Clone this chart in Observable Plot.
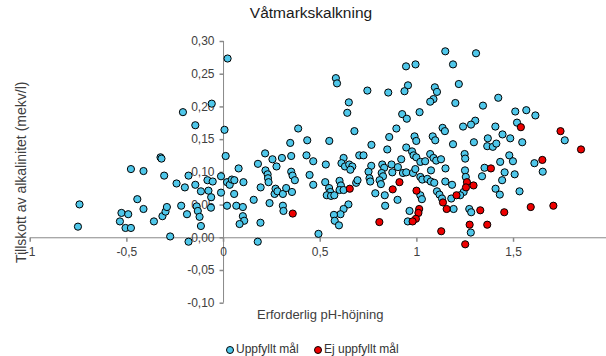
<!DOCTYPE html>
<html>
<head>
<meta charset="utf-8">
<script src="https://cdn.jsdelivr.net/npm/d3@7"></script>
<script src="https://cdn.jsdelivr.net/npm/@observablehq/plot@0.6"></script>
<style>
  body { margin: 0; background: #fff; font-family: "Liberation Sans", Arial, sans-serif; }
  #wrap { position: relative; width: 606px; height: 356px; overflow: hidden; background: #fff; }
  #title { position: absolute; left: 211px; width: 200px; top: 4px; text-align: center;
           font-size: 15.5px; line-height: 18px; font-weight: normal; color: #1a1a1a; }
  #chart { position: absolute; left: 0; top: 30px; }
  .item { position: absolute; top: 342px; display: flex; align-items: center;
          font-size: 12px; line-height: 15px; color: #333; white-space: nowrap; }
  .mk { width: 8px; height: 8px; box-sizing: border-box; border: 1px solid #000;
        border-radius: 50%; margin-right: 2px; }
</style>
</head>
<body>
<div id="wrap">
  <div id="title">Våtmarkskalkning</div>
  <div id="chart"></div>
  <div class="item" id="leg1"></div>
  <div class="item" id="leg2"></div>
</div>
<script>
// Required pH rise (x) and added alkalinity in mekv/l (y) per wetland liming site
const uppfyllt = [
  [-0.753,0.017],[-0.745,0.051],[-0.536,0.025],[-0.528,0.038],[-0.507,0.015],[-0.493,0.036],
  [-0.479,0.015],[-0.479,0.105],[-0.446,0.059],[-0.414,0.102],[-0.414,0.044],[-0.360,0.025],
  [-0.326,0.123],[-0.321,0.121],[-0.316,0.033],[-0.300,0.040],[-0.293,0.047],[-0.307,0.095],
  [-0.276,0.002],[-0.243,0.083],[-0.219,0.049],[-0.210,0.192],[-0.200,0.077],[-0.189,0.036],
  [-0.181,0.095],[-0.181,-0.006],[-0.146,0.172],[-0.146,0.081],[-0.139,0.048],[-0.133,0.041],
  [-0.124,0.032],[-0.117,0.018],[-0.117,0.071],[-0.083,0.088],[-0.078,0.072],[-0.064,0.062],
  [-0.065,0.046],[-0.061,0.205],[-0.056,0.086],[-0.013,0.094],[-0.013,0.069],
  [0.021,0.274],[0.005,0.165],[0.011,0.125],[0.018,0.085],[0.032,0.081],[0.043,0.089],
  [0.056,0.088],[0.018,0.049],[0.055,0.067],[0.066,0.049],[0.078,0.106],[0.100,0.047],
  [0.100,0.033],[0.107,0.026],[0.083,0.021],[0.103,0.085],[0.156,0.058],[0.178,0.113],
  [0.177,-0.006],[0.191,0.023],[0.192,0.077],[0.215,0.129],[0.217,0.103],[0.228,0.097],
  [0.230,0.091],[0.233,0.085],[0.238,0.053],[0.253,0.120],[0.264,0.067],[0.269,0.075],
  [0.279,0.071],[0.274,0.109],[0.302,0.122],[0.307,0.067],[0.307,0.049],[0.310,0.041],
  [0.324,0.076],[0.345,0.145],[0.350,0.125],[0.350,0.101],[0.357,0.095],[0.369,0.088],
  [0.354,0.070],[0.386,0.167],
  [0.581,0.244],[0.587,0.236],[0.640,0.191],[0.648,0.207],[0.744,0.225],[0.852,0.222],
  [0.677,0.163],[0.433,0.149],[0.547,0.148],[0.765,0.142],[0.857,0.154],[0.894,0.167],
  [0.847,0.135],[0.429,0.126],[0.464,0.117],[0.529,0.112],[0.621,0.122],[0.610,0.114],
  [0.628,0.109],[0.650,0.112],[0.666,0.109],[0.656,0.104],[0.702,0.126],[0.724,0.126],
  [0.764,0.110],[0.821,0.112],[0.831,0.107],[0.869,0.112],[0.818,0.099],[0.825,0.094],
  [0.807,0.088],[0.814,0.082],[0.873,0.100],[0.902,0.108],[0.919,0.120],[0.750,0.101],
  [0.755,0.091],[0.759,0.086],[0.445,0.096],[0.464,0.081],[0.526,0.085],[0.600,0.087],
  [0.607,0.080],[0.600,0.073],[0.621,0.073],[0.686,0.084],[0.693,0.088],[0.546,0.076],
  [0.552,0.070],[0.534,0.065],[0.556,0.064],[0.573,0.065],[0.785,0.068],[0.834,0.065],
  [0.900,0.058],[0.646,0.051],[0.621,0.044],[0.605,0.036],[0.571,0.035],[0.575,0.026],
  [0.597,0.019],[0.491,0.006],[0.836,0.049],[0.953,0.025],[0.962,0.041],
  [0.944,0.262],[0.993,0.265],[1.147,0.285],[1.306,0.282],[1.187,0.265],[0.954,0.233],
  [0.936,0.224],[1.093,0.230],[1.104,0.223],[1.217,0.235],[1.086,0.212],[1.069,0.208],
  [1.199,0.206],[1.421,0.214],[1.342,0.202],[1.014,0.192],[0.924,0.189],[0.948,0.182],
  [1.302,0.179],[1.280,0.173],[1.239,0.170],[1.133,0.168],[1.145,0.163],[1.406,0.170],
  [1.443,0.158],[0.988,0.155],[0.997,0.148],[1.082,0.155],[1.095,0.149],[1.367,0.152],
  [0.945,0.138],[1.187,0.143],[1.295,0.146],[1.364,0.140],[1.393,0.139],[1.411,0.144],
  [1.483,0.152],[0.975,0.132],[0.983,0.126],[0.997,0.123],[1.018,0.116],[1.043,0.117],
  [1.069,0.128],[1.086,0.122],[1.100,0.118],[1.125,0.120],[1.247,0.128],[1.250,0.121],
  [1.431,0.116],[1.350,0.107],[1.337,0.094],[0.928,0.099],[0.945,0.100],[0.980,0.099],
  [0.992,0.105],[1.018,0.093],[1.028,0.089],[1.054,0.090],[1.072,0.086],[1.090,0.084],
  [1.073,0.103],[1.148,0.106],[1.147,0.086],[1.182,0.081],[1.249,0.103],[1.253,0.093],
  [1.407,0.075],[1.429,0.066],[1.242,0.070],[1.224,0.065],[1.104,0.071],[1.117,0.066],
  [1.130,0.060],[1.178,0.060],[1.018,0.065],[1.026,0.059],[1.190,0.044],[1.271,0.044],
  [1.281,0.039],[1.279,0.008],
  [1.509,0.193],[1.566,0.195],[1.613,0.187],[1.518,0.176],[1.765,0.149],[1.545,0.146],
  [1.478,0.126],[1.497,0.117],[1.608,0.114],[1.454,0.100],[1.441,0.088],[1.506,0.097],
  [1.651,0.101],[1.531,0.071]
];

const ejUppfyllt = [
  [0.358,0.037],[0.653,0.075],[0.875,0.074],[0.910,0.085],[0.806,0.024],[0.998,0.072],
  [1.012,0.044],[1.008,0.038],[0.995,0.029],[0.978,0.025],[1.126,0.010],[1.135,0.054],
  [1.154,0.044],[1.205,0.065],[1.259,0.085],[1.254,0.077],[1.293,0.080],[1.328,0.042],
  [1.273,0.020],[1.364,0.020],[1.250,-0.010],[1.383,0.106],[1.452,0.039],[1.589,0.047],
  [1.706,0.049],[1.649,0.119],[1.538,0.169],[1.743,0.163],[1.849,0.135]
];

const seriesNames = ["Uppfyllt mål", "Ej uppfyllt mål"];
const xTicks = [-1, -0.5, 0, 0.5, 1, 1.5];
const xTickLabels = ["-1", "-0,5", "0", "0,5", "1", "1,5"];
const yTicks = [-0.10, -0.05, 0, 0.05, 0.10, 0.15, 0.20, 0.25, 0.30];
const yTickLabels = ["-0,10", "-0,05", "0,00", "0,05", "0,10", "0,15", "0,20", "0,25", "0,30"];

const blue = "#4fc7ea";
const red = "#ee0000";
const axisColor = "#898989";
const textColor = "#404040";

// short tick marks drawn as custom dot symbols
const tickLeft = { draw(ctx) { ctx.moveTo(0, 0); ctx.lineTo(-4, 0); } };
const tickDown = { draw(ctx) { ctx.moveTo(0, 0); ctx.lineTo(0, 4); } };

const chart = Plot.plot({
  width: 606,
  height: 296,
  marginLeft: 29.7,
  marginRight: -3.7,
  marginTop: 11,
  marginBottom: 23.3,
  x: { domain: [-1, 2], axis: null },
  y: { domain: [-0.1, 0.3], axis: null },
  style: { fontFamily: "'Liberation Sans', Arial, sans-serif", fontSize: "12px", background: "white", overflow: "visible" },
  marks: [
    Plot.ruleY([0], { stroke: axisColor }),
    Plot.ruleX([0], { stroke: axisColor }),
    Plot.dot(yTicks, { x: 0, y: d => d, symbol: tickLeft, stroke: axisColor, fill: "none" }),
    Plot.dot(xTicks, { x: d => d, y: 0, symbol: tickDown, stroke: axisColor, fill: "none" }),
    Plot.text(yTicks, { x: 0, y: d => d, text: (d, i) => yTickLabels[i], textAnchor: "end", dx: -9, fill: textColor, fontSize: 12 }),
    Plot.text(xTicks, { x: d => d, y: 0, text: (d, i) => xTickLabels[i], dy: 14, fill: textColor, fontSize: 12 }),
    Plot.text(["Erforderlig pH-höjning"], { frameAnchor: "bottom", lineAnchor: "middle", textAnchor: "middle", dy: 12, fill: textColor, fontSize: 13 }),
    Plot.text(["Tillskott av alkalinitet (mekv/l)"], { frameAnchor: "left", lineAnchor: "middle", textAnchor: "middle", rotate: -90, dx: -8.7, fill: textColor, fontSize: 14 }),
    Plot.dot(uppfyllt, { x: d => d[0], y: d => d[1], r: 3.6, fill: blue, stroke: "#000", strokeWidth: 1 }),
    Plot.dot(ejUppfyllt, { x: d => d[0], y: d => d[1], r: 3.6, fill: red, stroke: "#000", strokeWidth: 1 })
  ]
});
document.getElementById("chart").appendChild(chart);

// legend below the chart
const legendItems = [
  { el: "leg1", left: 226, color: blue, name: seriesNames[0] },
  { el: "leg2", left: 314, color: red, name: seriesNames[1] }
];
for (const it of legendItems) {
  const div = document.getElementById(it.el);
  div.style.left = it.left + "px";
  const mk = document.createElement("span");
  mk.className = "mk";
  mk.style.background = it.color;
  div.appendChild(mk);
  div.appendChild(document.createTextNode(it.name));
}
</script>
</body>
</html>
